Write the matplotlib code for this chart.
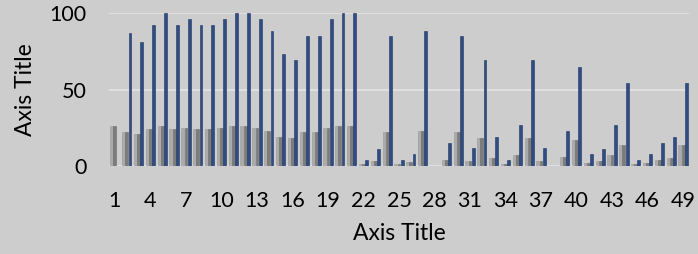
import matplotlib
matplotlib.use("Agg")
import matplotlib.pyplot as plt
import numpy as np

plt.rcParams['font.family'] = ['Lato', 'DejaVu Sans']

categories = list(range(1, 50))

series_light = [26, 22, 21, 24, 26, 24, 25, 24, 24, 25, 26, 26, 25, 23, 19, 18, 22, 22, 25, 26,
                26, 1, 3, 22, 1, 2.5, 23, 0, 4, 22, 3, 18, 5, 1, 7, 18, 3, 0, 6, 17,
                2, 3, 7, 14, 1, 2, 4, 5, 14]
series_dark = [26, 22, 21, 24, 26, 24, 25, 24, 24, 25, 26, 26, 25, 23, 19, 18, 22, 22, 25, 26,
               26, 1, 3, 22, 1, 2.5, 23, 0, 4, 22, 3, 18, 5, 1, 7, 18, 3, 0, 6, 17,
               2, 3, 7, 14, 1, 2, 4, 5, 14]
series_blue = [0, 87, 81, 92, 100, 92, 96, 92, 92, 96, 100, 100, 96, 88, 73, 69, 85, 85, 96, 100,
               100, 4, 11, 85, 4, 8, 88, 0, 15, 85, 12, 69, 19, 4, 27, 69, 12, 0, 23, 65,
               8, 11, 27, 54, 4, 8, 15, 19, 54]

x_ticks = list(range(1, 50, 3))

bg = '#cdcdcd'
fig = plt.figure(figsize=(6.98, 2.54), dpi=100, facecolor=bg)
ax = fig.add_axes([109 / 698, 1 - 166 / 254, 580 / 698, 153 / 254])
ax.set_facecolor(bg)

x = np.arange(len(categories))
w = 0.27
ax.bar(x - w, series_light, w * 0.9, color='#ababab', edgecolor='#9a9a9a', linewidth=0.4, zorder=3)
ax.bar(x, series_dark, w * 0.9, color='#7c7c7c', edgecolor='#6c6c6c', linewidth=0.4, zorder=3)
ax.bar(x + w, series_blue, w * 0.9, color='#2f4d83', edgecolor='#1f3562', linewidth=0.4, zorder=3)

ax.set_xlim(-0.5, len(categories) - 0.5)
ax.set_ylim(0, 100)
ax.set_yticks([0, 50, 100])
ax.yaxis.grid(True, color='#e2e2e2', linewidth=1.3, zorder=0)
ax.set_xticks([c - 1 for c in x_ticks])
ax.set_xticklabels([str(c) for c in x_ticks])
ax.tick_params(axis='both', length=0, labelsize=15.5, colors='black')
ax.tick_params(axis='x', pad=18)
ax.tick_params(axis='y', pad=16)
for s in ax.spines.values():
    s.set_visible(False)

ax.set_xlabel('Axis Title', fontsize=16.5, labelpad=9)
ax.set_ylabel('Axis Title', fontsize=16.5, labelpad=10)

fig.savefig('out.png', dpi=100, facecolor=bg)
